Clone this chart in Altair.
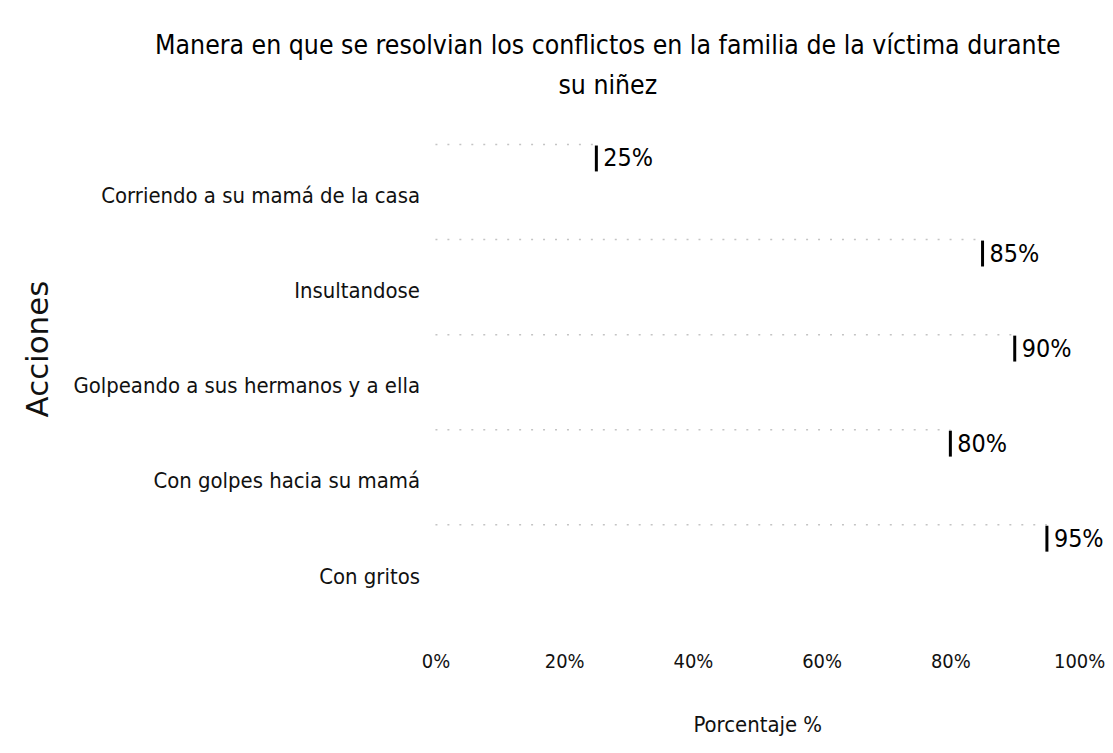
import altair as alt
import pandas as pd

categories = [
    "Corriendo a su mamá de la casa",
    "Insultandose",
    "Golpeando a sus hermanos y a ella",
    "Con golpes hacia su mamá",
    "Con gritos",
]
values = [25, 85, 90, 80, 95]
labels = ["25%", "85%", "90%", "80%", "95%"]
x_ticks = [0, 20, 40, 60, 80, 100]

df = pd.DataFrame({"accion": categories, "valor": values, "etiqueta": labels})

NARROW = "DejaVu Sans Condensed, Liberation Sans Narrow, sans-serif"

x_enc = alt.X(
    "valor:Q",
    scale=alt.Scale(domain=[0, 100], nice=False),
    axis=alt.Axis(
        values=x_ticks,
        labelExpr="datum.value + '%'",
        grid=False,
        domain=False,
        ticks=False,
        labelFlush=False,
        labelFont=NARROW,
        labelFontSize=20,
        labelColor="#111111",
        labelPadding=66,
        title="Porcentaje %",
        titleFont=NARROW,
        titleFontSize=22,
        titleFontWeight="normal",
        titleColor="#111111",
        titlePadding=43,
    ),
)
y_enc = alt.Y(
    "accion:N",
    sort=categories,
    scale=alt.Scale(paddingInner=0, paddingOuter=0),
    axis=alt.Axis(
        grid=False,
        domain=False,
        ticks=False,
        labelFont=NARROW,
        labelFontSize=22,
        labelColor="#111111",
        labelPadding=16,
        labelOffset=38,
        labelLimit=500,
        title="Acciones",
        titleFont="DejaVu Sans",
        titleFontSize=31,
        titleFontWeight="normal",
        titleColor="#111111",
        titleX=-382,
    ),
)

base = alt.Chart(df).encode(y=y_enc)

bars = base.mark_bar(color="white", size=28).encode(x=x_enc)

top_edge = base.mark_rule(color="#c4c4c4", strokeDash=[2, 10], strokeWidth=1.5, yOffset=-14).encode(
    x=alt.X("zero:Q"), x2="valor:Q"
).transform_calculate(zero="0")

end_tick = base.mark_tick(color="black", thickness=3, size=26, opacity=1).encode(x="valor:Q")

text = base.mark_text(
    align="left", baseline="middle", dx=7, font=NARROW, fontSize=25, color="black"
).encode(x="valor:Q", text="etiqueta:N")

chart = (
    alt.layer(bars, top_edge, end_tick, text)
    .properties(
        width=646,
        height=477,
        background="white",
        padding={"left": 15, "top": 23, "right": 0, "bottom": 0},
        title=alt.TitleParams(
            text=[
                "Manera en que se resolvian los conflictos en la familia de la víctima durante",
                "su niñez",
            ],
            font=NARROW,
            fontSize=26.5,
            fontWeight="normal",
            color="black",
            lineHeight=40,
            anchor="middle",
            frame="group",
            dx=-150,
            offset=12,
        ),
    )
    .configure_view(stroke="transparent", strokeWidth=0)
)

chart.save("out.html", embed_options={"renderer": "svg", "actions": False})
